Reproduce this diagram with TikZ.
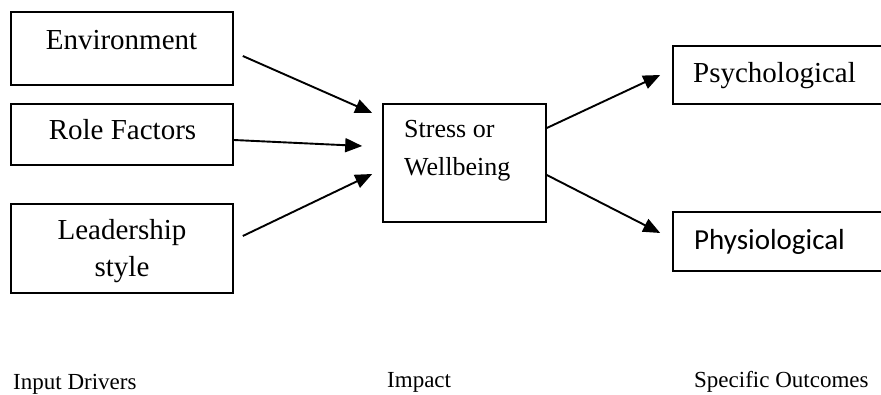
\documentclass[tikz,border=0pt]{standalone}
\usepackage{fontspec}
\setmainfont{Liberation Serif}
\newfontfamily\calfont{Carlito}
\usetikzlibrary{arrows.meta}
\begin{document}
\begin{tikzpicture}[x=1pt,y=-1pt,
  box/.style={draw=black,line width=1.6pt,inner sep=0pt,rectangle},
  txt/.style={inner sep=0pt,font=\fontsize{29}{35}\selectfont},
  small/.style={inner sep=0pt,font=\fontsize{23}{28}\selectfont,anchor=base west},
  conn/.style={line width=1.9pt,-{Triangle[length=17pt,width=14pt]}}]
\useasboundingbox (0,0) rectangle (881,395);
\clip (0,0) rectangle (881,395);
% boxes
\node[box,minimum width=222pt,minimum height=73pt] (env) at (122,48.5) {};
\node[box,minimum width=222pt,minimum height=61pt] (role) at (122,134.5) {};
\node[box,minimum width=222pt,minimum height=89pt] (lead) at (122,248.5) {};
\node[box,minimum width=163pt,minimum height=118pt] (stress) at (464.5,163) {};
\node[box,minimum width=240pt,minimum height=58pt] (psy) at (793,75) {};
\node[box,minimum width=240pt,minimum height=59pt] (phy) at (793,241.5) {};
% texts
\node[txt,anchor=base] (tenv) at (121.5,50) {Environment};
\node[txt,anchor=base] (trole) at (122.5,140) {Role Factors};
\node[txt,anchor=base] (tlead1) at (122,240) {Leadership};
\node[txt,anchor=base] (tlead2) at (122,277) {style};
\node[inner sep=0pt,font=\fontsize{26}{30}\selectfont,anchor=base west] (tstr1) at (404,138) {Stress or};
\node[inner sep=0pt,font=\fontsize{26}{30}\selectfont,anchor=base west] (tstr2) at (404,176) {Wellbeing};
\node[txt,anchor=base west] (tpsy) at (693,83) {Psychological};
\node[txt,anchor=base west,font=\calfont\fontsize{29}{34}\selectfont] (tphy) at (694,250) {Physiological};
\node[small] (lin) at (13,389) {Input Drivers};
\node[small] (limp) at (387,388) {Impact};
\node[small] (lout) at (694,388) {Specific Outcomes};
% connectors
\draw[conn] ([shift={(9,7.5)}]env.east) -- ([shift={(-10,-50)}]stress.west);
\draw[conn] ([shift={(0,5.5)}]role.east) -- ([shift={(-20,-17)}]stress.west);
\draw[conn] ([shift={(9,-12.5)}]lead.east) -- ([shift={(-10,11)}]stress.west);
\draw[conn] ([shift={(0,-35)}]stress.east) -- ([shift={(-12,0)}]psy.west);
\draw[conn] ([shift={(0,12)}]stress.east) -- ([shift={(-12,-8.5)}]phy.west);
\end{tikzpicture}
\end{document}
